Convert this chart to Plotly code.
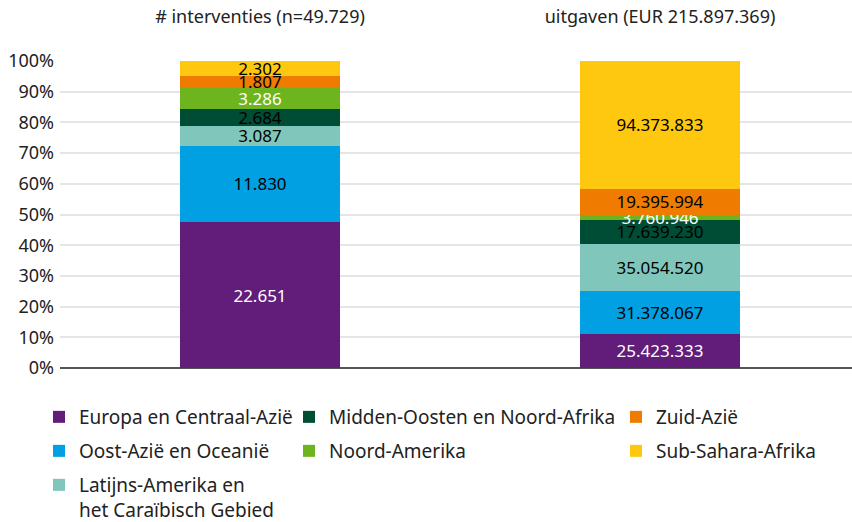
import plotly.graph_objects as go

categories = ["# interventies (n=49.729)", "uitgaven (EUR 215.897.369)"]
regions = [
    "Europa en Centraal-Azië",
    "Oost-Azië en Oceanië",
    "Latijns-Amerika en<br>het Caraïbisch Gebied",
    "Midden-Oosten en Noord-Afrika",
    "Noord-Amerika",
    "Zuid-Azië",
    "Sub-Sahara-Afrika",
]
interventies = [22651, 11830, 3087, 2684, 3286, 1807, 2302]
uitgaven = [25423333, 31378067, 35054520, 17639230, 3760946, 19395994, 94373833]
colors = ["#621c79", "#00a0e2", "#80c6ba", "#004d35", "#6eb41e", "#ef7c00", "#fdc80f"]
text_colors = ["white", "black", "black", "black", "white", "black", "black"]

# legend placement (pixel positions of each legend entry: column x, row y)
legend_pos = [(39, 417), (39, 451), (39, 466), (289, 417), (289, 451), (616, 417), (616, 451)]

L, R, T, B = 60, 0, 61, 154
W, H = 852, 522
pw = W - L - R
ph = H - T - B

def fmt(v):
    return f"{v:,}".replace(",", ".")

fig = go.Figure()
layout_legends = {}
for i, name in enumerate(regions):
    lname = "legend" if i == 0 else f"legend{i+1}"
    fig.add_trace(go.Bar(
        x=categories,
        y=[interventies[i], uitgaven[i]],
        name=name,
        marker=dict(color=colors[i], line=dict(width=0)),
        text=[fmt(interventies[i]), fmt(uitgaven[i])],
        textposition="inside",
        insidetextanchor="middle",
        textfont=dict(color=text_colors[i], size=17, family="Noto Sans"),
        legend=lname,
        hoverinfo="skip",
    ))
    px, py = legend_pos[i]
    layout_legends[lname] = dict(
        x=(px - L) / pw,
        y=(H - B - py) / ph,
        xanchor="left",
        yanchor="middle" if i != 2 else "top",
        valign="top",
        font=dict(family="Noto Sans", size=19, color="#222"),
        bgcolor="rgba(0,0,0,0)",
        itemsizing="constant",
        borderwidth=0,
    )

fig.update_layout(
    barmode="stack",
    barnorm="percent",
    bargap=0.6,
    width=W,
    height=H,
    margin=dict(l=L, r=R, t=T, b=B, autoexpand=False),
    plot_bgcolor="white",
    paper_bgcolor="white",
    font=dict(family="Noto Sans", size=16, color="#222"),
    uniformtext=dict(minsize=17, mode="show"),
    showlegend=True,
    **layout_legends,
)
fig.update_xaxes(
    side="top",
    range=[-0.5, 1.48],
    showgrid=False,
    ticks="",
    tickfont=dict(size=18, family="Noto Sans", color="#222"),
    showline=False,
    ticklabelstandoff=33,
    automargin=False,
)
fig.update_yaxes(
    range=[0, 100],
    dtick=10,
    ticksuffix="%",
    showgrid=True,
    gridcolor="#e5e5e5",
    gridwidth=2,
    zeroline=True,
    zerolinecolor="#555555",
    zerolinewidth=2,
    tickfont=dict(size=18, family="Noto Sans", color="#222"),
    ticklabelstandoff=5,
    automargin=False,
)

fig.write_html(
    "out.html",
    config={"displayModeBar": False},
    post_script="document.body.style.margin='0';",
)
